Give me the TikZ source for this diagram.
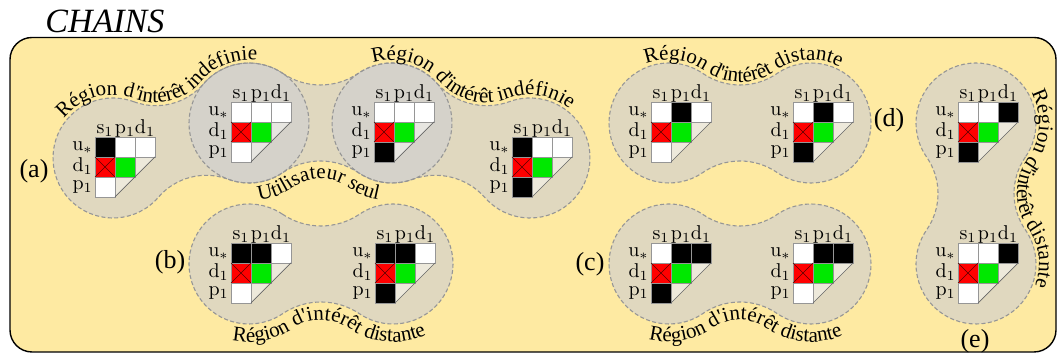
\documentclass[tikz,border=0pt]{standalone}
\usepackage{fontspec}
\newfontfamily\lblfont{Liberation Serif}
\usepackage{tikz}
\usetikzlibrary{decorations.text, backgrounds}

\definecolor{bgyellow}{RGB}{254,234,162}
\definecolor{lobegray}{RGB}{207,207,209}
\definecolor{dashgray}{RGB}{150,150,150}
\definecolor{cellgray}{RGB}{150,150,150}
\definecolor{cellred}{RGB}{255,0,0}
\definecolor{cellgreen}{RGB}{0,232,0}

\newcommand{\neckw}{38}
\newcommand{\lober}{60}

% geometry of two lobes joined by a neck
\newcommand{\lobegeom}[4]{%
  \pgfmathsetmacro{\lpd}{veclen(#3-#1,#4-#2)}%
  \pgfmathsetmacro{\lpa}{atan2(#4-#2,#3-#1)}%
  \pgfmathsetmacro{\lpR}{((\lpd/2)^2+\neckw^2-\lober^2)/(2*(\lober-\neckw))}%
  \pgfmathsetmacro{\lpt}{atan2(\lpR+\neckw,\lpd/2)}}

\newcommand{\lobeshape}[5]{%
  \lobegeom{#1}{#2}{#3}{#4}%
  \path[#5] ({#1+\lober*cos(\lpt+(\lpa))},{#2+\lober*sin(\lpt+(\lpa))})
    arc[start angle=180+\lpt+(\lpa), end angle=360-\lpt+(\lpa), radius=\lpR]
    arc[start angle=180-\lpt+(\lpa), end angle=\lpt-180+(\lpa), radius=\lober]
    arc[start angle=\lpt+(\lpa), end angle=180-\lpt+(\lpa), radius=\lpR]
    arc[start angle=-\lpt+(\lpa), end angle=\lpt-360+(\lpa), radius=\lober] -- cycle;}

\newcommand{\lobes}[4]{%
  \begin{scope}[on background layer]\lobeshape{#1}{#2}{#3}{#4}{lobe}\end{scope}
  \lobeshape{#1}{#2}{#3}{#4}{lobeline}}

% label along the upper side (baseline 3 units outside)
\newcommand{\toplabel}[7]{%
  \lobegeom{#1}{#2}{#3}{#4}%
  \path[toptext={#7}] ({#1+(\lober+3)*cos(#5+(\lpa))},{#2+(\lober+3)*sin(#5+(\lpa))})
    arc[start angle=#5+(\lpa), end angle=\lpt+(\lpa), radius=\lober+3]
    arc[start angle=180+\lpt+(\lpa), end angle=360-\lpt+(\lpa), radius=\lpR-3]
    arc[start angle=180-\lpt+(\lpa), end angle=#6+(\lpa), radius=\lober+3];}

% label along the lower side (baseline 18 units outside)
\newcommand{\botlabel}[7]{%
  \lobegeom{#1}{#2}{#3}{#4}%
  \path[bottext={#7}] ({#1+(\lober+18)*cos(#5+(\lpa))},{#2+(\lober+18)*sin(#5+(\lpa))})
    arc[start angle=#5+(\lpa), end angle=-\lpt+(\lpa), radius=\lober+18]
    arc[start angle=180-\lpt+(\lpa), end angle=\lpt+(\lpa), radius=\lpR-18]
    arc[start angle=\lpt-180+(\lpa), end angle=#6+(\lpa), radius=\lober+18];}

% one matrix: name, lobe centre, u* row colours, p1 colour
\newcommand{\chain}[7]{%
  \begin{scope}[shift={(#2-18,#3+21)}]
    \fill[tri] (20,-20) -- (60,-20) -- (20,-60) -- cycle;
    \draw[cell, fill=#4] (0,0) rectangle (20,-20);
    \draw[cell, fill=#5] (20,0) rectangle (40,-20);
    \draw[cell, fill=#6] (40,0) rectangle (60,-20);
    \draw[cell, fill=cellred] (0,-20) rectangle (20,-40);
    \draw[cross] (0,-20) -- (20,-40) (0,-40) -- (20,-20);
    \draw[cell, fill=cellgreen] (20,-20) rectangle (40,-40);
    \draw[cell, fill=#7] (0,-40) rectangle (20,-60);
    \draw[diag] (60,-20) -- (20,-60);
    \node[collbl] (#1-s) at (10,3) {$\mathrm{s}_1$};
    \node[collbl] (#1-p) at (30,3) {$\mathrm{p}_1$};
    \node[collbl] (#1-d) at (50,3) {$\mathrm{d}_1$};
    \node[rowlbl] (#1-ru) at (-2,-14) {$\mathrm{u}_*$};
    \node[rowlbl] (#1-rd) at (-2,-35) {$\mathrm{d}_1$};
    \node[rowlbl] (#1-rp) at (-2,-52.5) {$\mathrm{p}_1$};
  \end{scope}}

\begin{document}
\begin{tikzpicture}[
  x=0.5pt, y=0.5pt,
  frame/.style={draw=black, line width=.7pt, fill=bgyellow, rounded corners=11pt},
  lobe/.style={fill=lobegray, fill opacity=.63},
  lobeline/.style={draw=dashgray, line width=.55pt, dash pattern=on 2pt off 1.2pt},
  cell/.style={draw=cellgray, line width=.4pt},
  cross/.style={draw=red!35!black, line width=.3pt},
  diag/.style={draw=black!60, line width=.35pt},
  tri/.style={fill=white, fill opacity=.45},
  collbl/.style={anchor=base, inner sep=0pt},
  rowlbl/.style={anchor=base east, inner sep=0pt},
  tag/.style={font=\lblfont\fontsize{13}{15}\selectfont, inner sep=0pt},
  toptext/.style={decorate, decoration={text along path,
    text={|\lblfont\fontsize{10.5}{12}\selectfont|#1}, text align=center}},
  bottext/.style={decorate, decoration={text along path,
    text={|\lblfont\fontsize{10.5}{12}\selectfont|#1}, text align=center}},
]
\useasboundingbox (0,0) rectangle (1059,356);

% Frame
\begin{scope}[on background layer]
  \draw[frame] (10,4) rectangle (1056,318.5);
\end{scope}
\node[anchor=base west, inner sep=0pt, font=\lblfont\itshape\fontsize{17}{20}\selectfont]
  (title) at (45,323) {CHAINS};

% Lobes
\lobes{113}{198}{249}{233}
\lobes{249}{233}{392}{233}
\lobes{392}{233}{530}{198}
\lobes{249}{92}{393}{92}
\lobes{669}{92}{811}{92}
\lobes{669}{233}{811}{233}
\lobes{976}{233}{976}{92}

% Matrices
\chain{a1}{113}{198}{black}{white}{white}{white}
\chain{a2}{249}{233}{white}{white}{white}{white}
\chain{a3}{392}{233}{white}{white}{white}{black}
\chain{a4}{530}{198}{black}{white}{white}{black}
\chain{b1}{249}{92}{black}{black}{white}{white}
\chain{b2}{393}{92}{black}{black}{white}{black}
\chain{c1}{669}{92}{white}{black}{black}{black}
\chain{c2}{811}{92}{white}{black}{black}{white}
\chain{d1}{669}{233}{white}{black}{white}{white}
\chain{d2}{811}{233}{white}{black}{white}{black}
\chain{e1}{976}{233}{white}{white}{black}{black}
\chain{e2}{976}{92}{white}{white}{black}{white}

% Region labels
\toplabel{113}{198}{249}{233}{148}{47}{Région d'intérêt indéfinie}
\toplabel{392}{233}{530}{198}{143}{44}{Région d'intérêt indéfinie}
\botlabel{249}{233}{392}{233}{-99}{-84}{Utilisateur seul}
\botlabel{249}{92}{393}{92}{-122}{-45}{Région d'intérêt distante}
\botlabel{669}{92}{811}{92}{-126}{-45}{Région d'intérêt distante}
\toplabel{669}{233}{811}{233}{126}{48}{Région d'intérêt distante}
\toplabel{976}{233}{976}{92}{134}{54}{Région d'intérêt distante}

% Tags
\node[tag] (tag-a) at (34,185) {(a)};
\node[tag] (tag-b) at (170,94) {(b)};
\node[tag] (tag-c) at (590,92) {(c)};
\node[tag] (tag-d) at (889,236) {(d)};
\node[tag] (tag-e) at (975,15) {(e)};

\end{tikzpicture}
\end{document}
